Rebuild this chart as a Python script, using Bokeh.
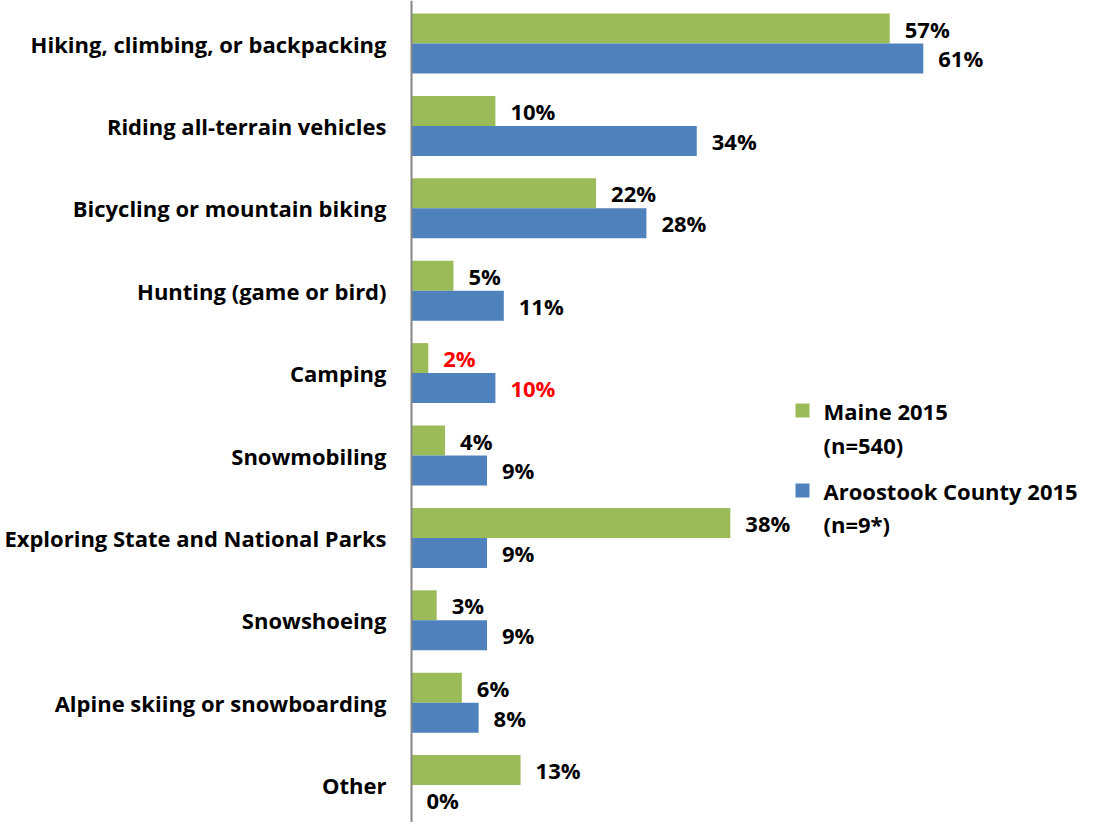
from bokeh.plotting import figure
from bokeh.models import ColumnDataSource, Range1d, Span
from bokeh.transform import dodge
from bokeh.core.properties import value
from bokeh.embed import file_html
from bokeh.resources import INLINE

categories = [
    "Hiking, climbing, or backpacking",
    "Riding all-terrain vehicles",
    "Bicycling or mountain biking",
    "Hunting (game or bird)",
    "Camping",
    "Snowmobiling",
    "Exploring State and National Parks",
    "Snowshoeing",
    "Alpine skiing or snowboarding",
    "Other",
]
maine_2015 = [57, 10, 22, 5, 2, 4, 38, 3, 6, 13]
aroostook_2015 = [61, 34, 28, 11, 10, 9, 9, 9, 8, 0]
highlighted = ["Camping"]
series_names = [["Maine 2015", "(n=540)"], ["Aroostook County 2015", "(n=9*)"]]

GREEN = "#9BBB59"
BLUE = "#4F81BD"
FONT = "Open Sans"
FSIZE = "22px"

W, H = 1077, 822
PX_PER_PCT = 8.39
AXIS_PX = 411
PITCH = 82.4
TOP_OFF = 43.0 / PITCH


def px_x(px):
    return (px - AXIS_PX) / PX_PER_PCT


def px_y(py):
    return py / PITCH - TOP_OFF


src = ColumnDataSource(dict(
    y=list(range(len(categories))),
    cat=categories,
    maine=maine_2015,
    aroo=aroostook_2015,
    maine_lbl=[f"{v}%" for v in maine_2015],
    aroo_lbl=[f"{v}%" for v in aroostook_2015],
    lbl_color=["#FF0000" if c in highlighted else "#000000" for c in categories],
))

p = figure(
    width=W, height=H,
    x_range=Range1d(px_x(0), px_x(W)),
    y_range=Range1d(start=px_y(H), end=px_y(0)),
    x_axis_location=None, y_axis_location=None,
    output_backend="svg", toolbar_location=None,
    min_border=0, outline_line_color=None,
)
p.grid.visible = False

p.hbar(y=dodge("y", -0.182), left=0, right="maine", height=0.364,
       fill_color=GREEN, line_color=None, source=src)
p.hbar(y=dodge("y", 0.182), left=0, right="aroo", height=0.364,
       fill_color=BLUE, line_color=None, source=src)

fonts = dict(text_font=value(FONT), text_font_style="bold", text_font_size=FSIZE,
             text_baseline="middle")
p.text(x="maine", y=dodge("y", -0.182), text="maine_lbl", x_offset=15,
       text_color="lbl_color", source=src, **fonts)
p.text(x="aroo", y=dodge("y", 0.182), text="aroo_lbl", x_offset=15,
       text_color="lbl_color", source=src, **fonts)
p.text(x=0, y="y", text="cat", x_offset=-25, text_align="right",
       text_color="#000000", source=src, **fonts)

p.add_layout(Span(location=0, dimension="height", line_color="#868686", line_width=2))

# legend (square aligned with first text line, as in the original)
leg_x_sq = 802
leg_x_txt = 823
leg_rows = [(410, 444), (490, 523)]
for (l1, l2), names, col in zip(leg_rows, series_names, [GREEN, BLUE]):
    p.scatter(x=[px_x(leg_x_sq)], y=[px_y(l1)], marker="square", size=14,
              fill_color=col, line_color=None)
    p.text(x=[px_x(leg_x_txt)] * 2, y=[px_y(l1), px_y(l2)], text=names,
           text_color="#000000", **fonts)

open("out.html", "w").write(file_html(p, INLINE))
